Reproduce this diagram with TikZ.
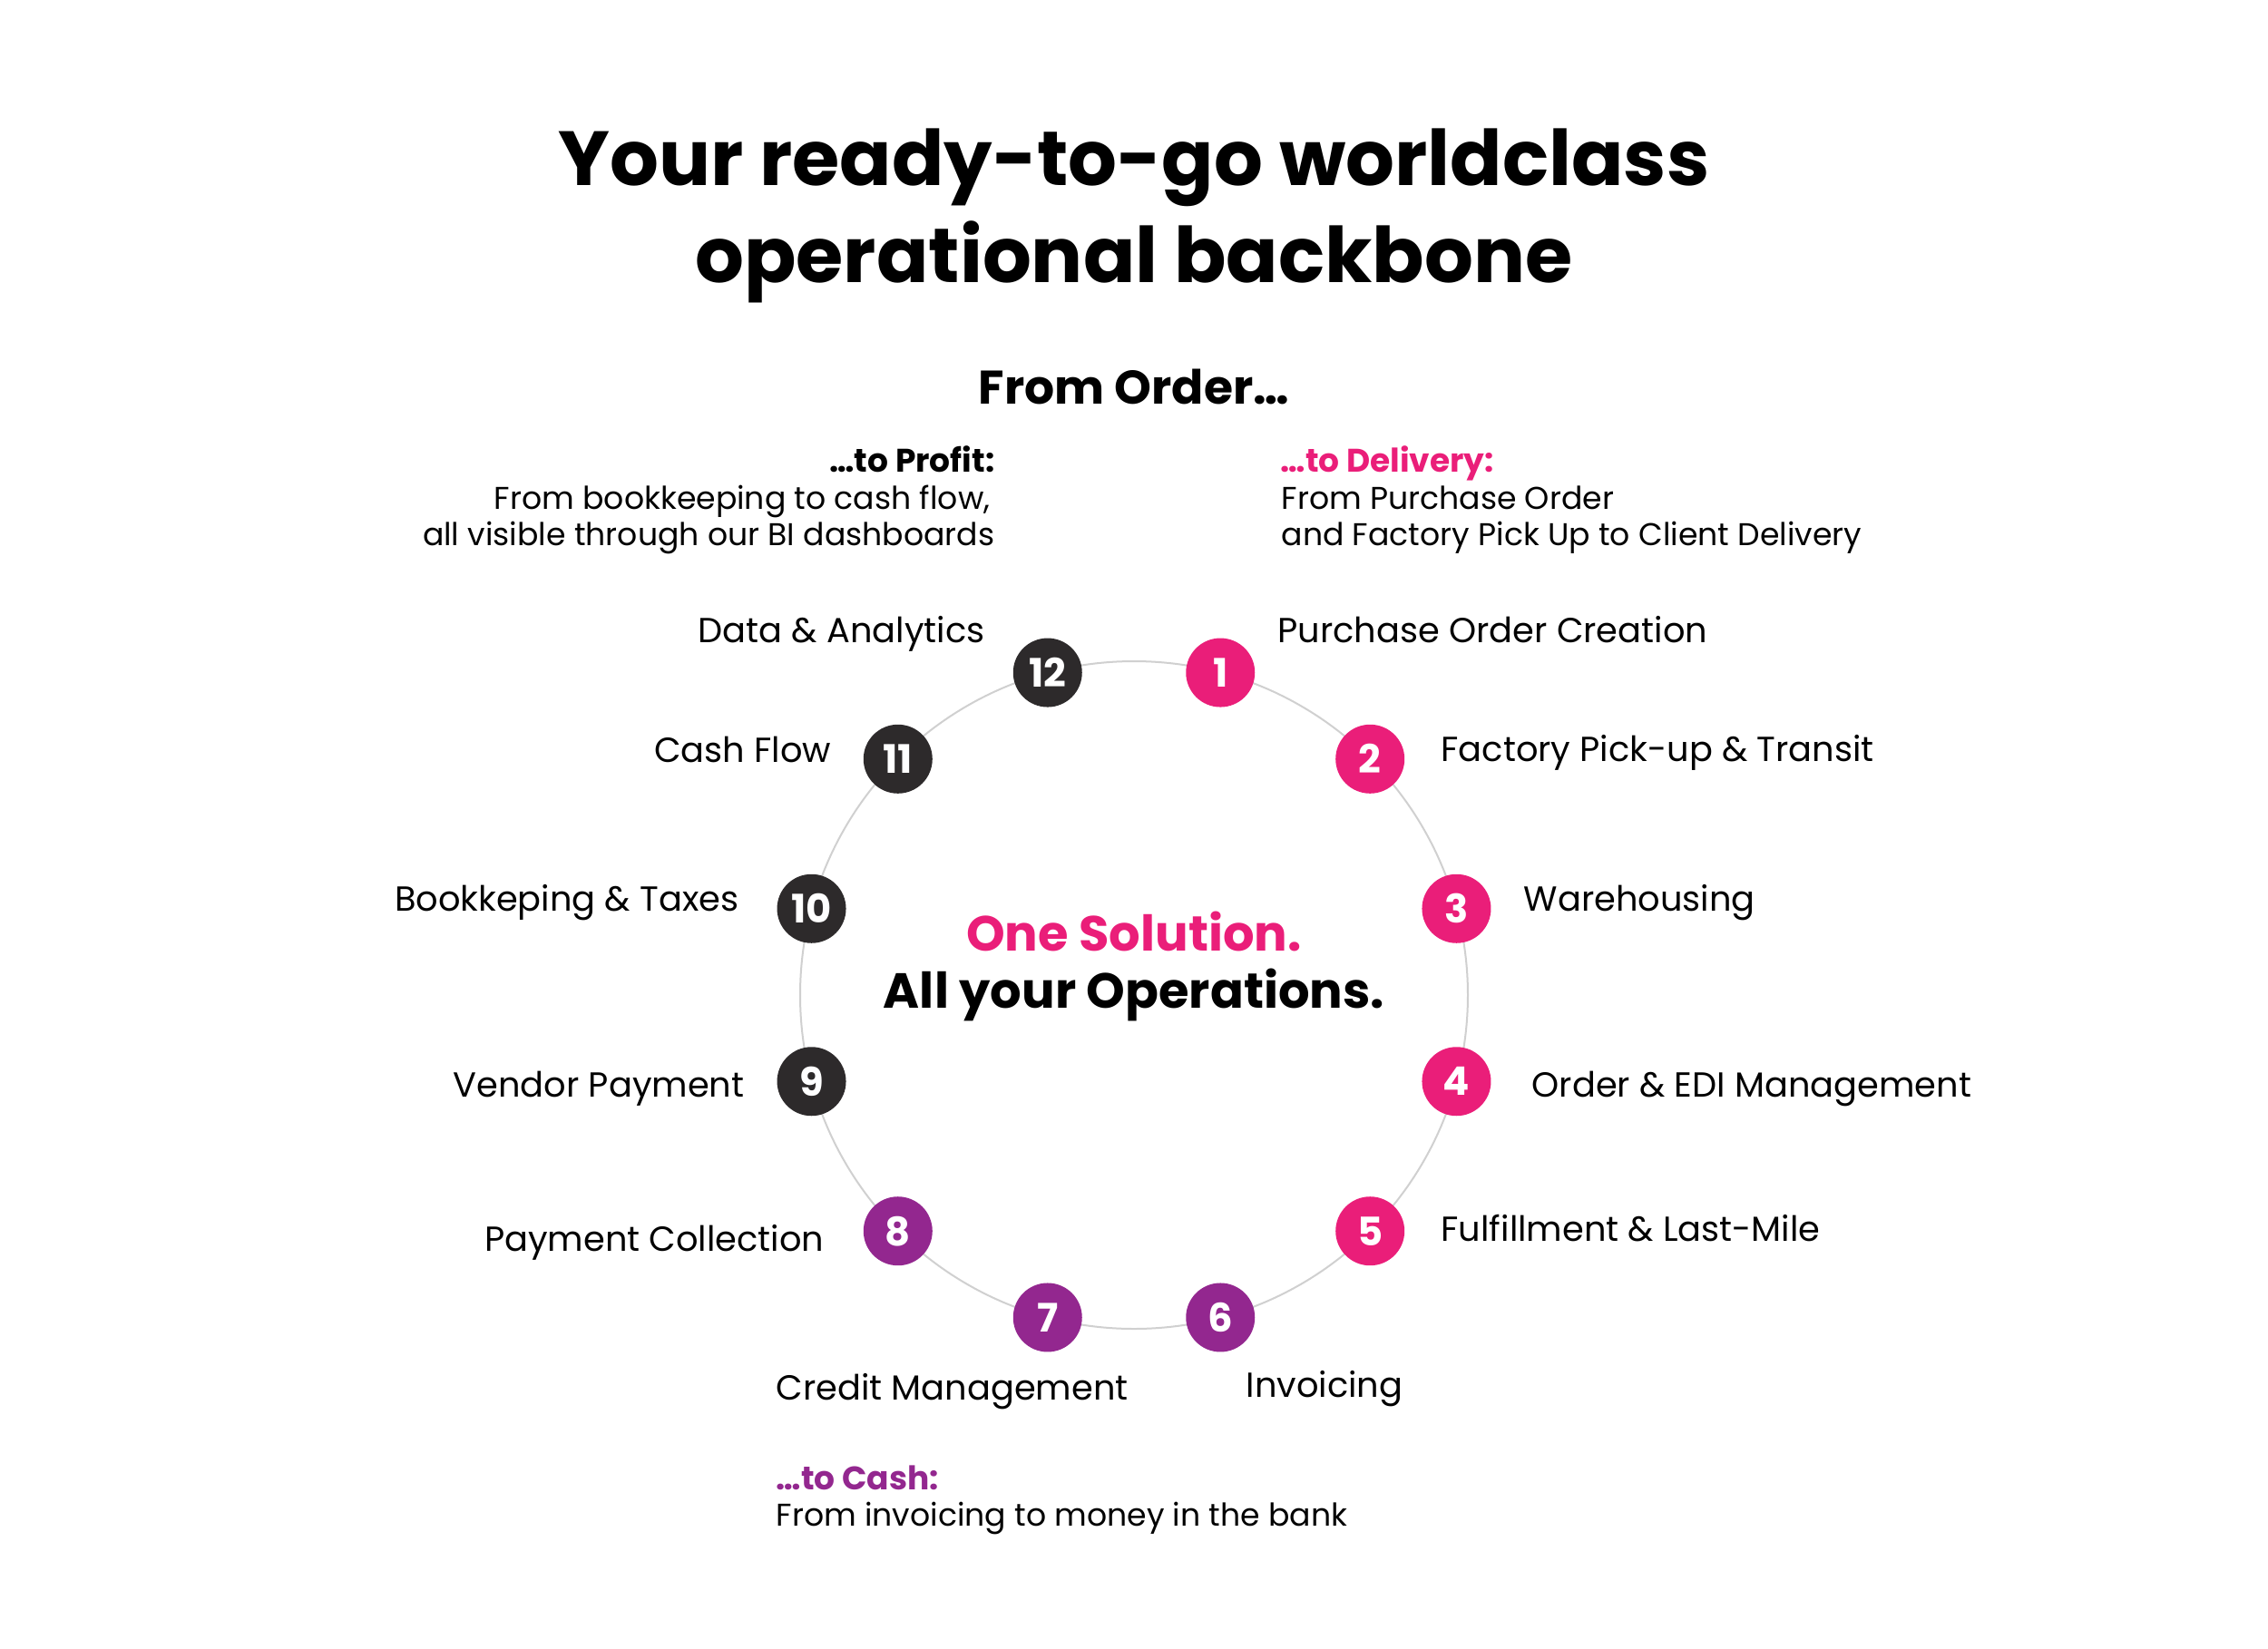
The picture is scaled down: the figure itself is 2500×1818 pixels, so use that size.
\documentclass[tikz,border=0pt]{standalone}
\usepackage{fontspec}
\setmainfont{Poppins}
\definecolor{brandpink}{HTML}{EA1E79}
\definecolor{brandpurple}{HTML}{93278F}
\definecolor{branddark}{HTML}{2D2A2B}
\definecolor{ringgray}{HTML}{D0D0D0}
\begin{document}
\begin{tikzpicture}[x=0.3pt,y=-0.3pt,
  badge/.style={circle,fill=#1,minimum size=22.8pt,inner sep=0pt,text=white,font=\fontsize{13}{14}\selectfont\bfseries},
  lbl/.style={inner sep=0pt,font=\fontsize{11.5}{13}\selectfont},
  body/.style={inner sep=0pt,font=\fontsize{10.4}{12}\selectfont},
  head/.style={inner sep=0pt,font=\fontsize{10.8}{12}\selectfont\bfseries},
  ring/.style={draw=ringgray,line width=0.6pt}]
\useasboundingbox (0,0) rectangle (2500,1818);
% title
\node[inner sep=0pt,anchor=base,font=\fontsize{25.4}{30}\selectfont\bfseries] (t1) at (1250,204) {Your ready-to-go worldclass};
\node[inner sep=0pt,anchor=base,font=\fontsize{25.4}{30}\selectfont\bfseries] (t2) at (1250,311) {operational backbone};
\node[inner sep=0pt,anchor=base,font=\fontsize{15.6}{17}\selectfont\bfseries] (order) at (1250,445) {From Order…};
% profit
\node[head,anchor=base east] (p1) at (1097,520) {…to Profit:};
\node[body,anchor=base east] (p2) at (1092,561) {From bookkeeping to cash flow,};
\node[body,anchor=base east] (p3) at (1097,601) {all visible through our BI dashboards};
% delivery
\node[head,anchor=base west,text=brandpink] (d1) at (1411,520) {…to Delivery:};
\node[body,anchor=base west] (d2) at (1412,561) {From Purchase Order};
\node[body,anchor=base west] (d3) at (1412,601) {and Factory Pick Up to Client Delivery};
% cash
\node[head,anchor=base west,text=brandpurple] (c1) at (855,1642) {…to Cash:};
\node[body,anchor=base west] (c2) at (855,1682) {From invoicing to money in the bank};
% center
\node[inner sep=0pt,anchor=base,font=\fontsize{16.3}{18}\selectfont\bfseries,text=brandpink] (one) at (1250,1048) {One Solution.};
\node[inner sep=0pt,anchor=base,font=\fontsize{16.3}{18}\selectfont\bfseries] (all) at (1250,1111) {All your Operations.};
% ring
\coordinate (ctr) at (1250,1097);
\draw[ring] (ctr) circle (368);
% badges
\foreach \n/\a/\c in {1/75/brandpink,2/45/brandpink,3/15/brandpink,4/-15/brandpink,5/-45/brandpink,6/-75/brandpurple,7/-105/brandpurple,8/-135/brandpurple,9/-165/branddark,10/165/branddark,11/135/branddark,12/105/branddark}{
  \node[badge=\c] (b\n) at ({1250+368*cos(\a)},{1097-368*sin(\a)}) {\n};
}
% labels
\node[lbl,anchor=base west] (l1) at (1408,708) {Purchase Order Creation};
\node[lbl,anchor=base west] (l2) at (1588,839) {Factory Pick-up \& Transit};
\node[lbl,anchor=base west] (l3) at (1679,1004) {Warehousing};
\node[lbl,anchor=base west] (l4) at (1688,1209) {Order \& EDI Management};
\node[lbl,anchor=base west] (l5) at (1588,1368) {Fulfillment \& Last-Mile};
\node[lbl,anchor=base west] (l6) at (1373,1540) {Invoicing};
\node[lbl,anchor=base west] (l7) at (855,1543) {Credit Management};
\node[lbl,anchor=base east] (l8) at (909,1379) {Payment Collection};
\node[lbl,anchor=base east] (l9) at (821,1209) {Vendor Payment};
\node[lbl,anchor=base east] (l10) at (815,1004) {Bookkeping \& Taxes};
\node[lbl,anchor=base east] (l11) at (917,840) {Cash Flow};
\node[lbl,anchor=base east] (l12) at (1086,708) {Data \& Analytics};
\end{tikzpicture}
\end{document}
